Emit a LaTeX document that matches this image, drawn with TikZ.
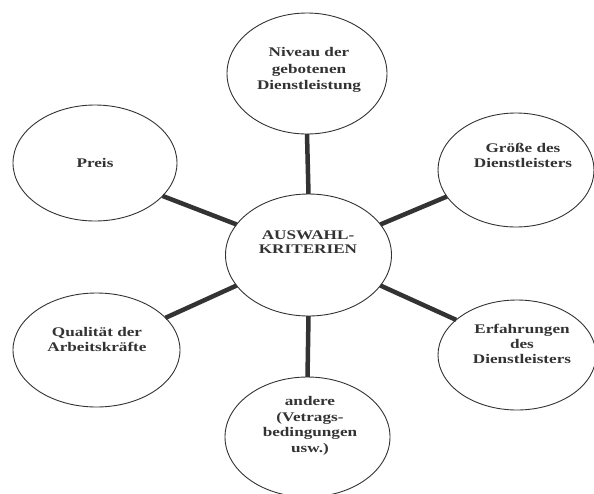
\documentclass[tikz,border=0pt]{standalone}
\usepackage{fontspec}
\setmainfont{Liberation Serif}[FakeStretch=1.3]
\usetikzlibrary{shapes.geometric}
\definecolor{ink}{HTML}{333333}
\begin{document}
\begin{tikzpicture}[x=1pt,y=-1pt,
  oval/.style={ellipse, draw=ink, line width=0.9pt, inner sep=0pt, outer sep=0pt},
  lbl/.style={font=\bfseries\fontsize{13.2}{15}\selectfont, text=ink, align=center, inner sep=0pt},
  link/.style={draw=ink, line width=4.5pt}]
\useasboundingbox[fill=white] (0,0) rectangle (594,493);
% ellipses
\node[oval, minimum width=160pt, minimum height=121pt] (top) at (307,73.5) {};
\node[oval, minimum width=166pt, minimum height=122pt] (ctr) at (308.5,255) {};
\node[oval, minimum width=164pt, minimum height=116pt] (preis) at (95,163) {};
\node[oval, minimum width=167pt, minimum height=114pt] (qual) at (96.5,350) {};
\node[oval, minimum width=156pt, minimum height=114pt] (groesse) at (516,170) {};
\node[oval, minimum width=158pt, minimum height=110pt] (erf) at (517,355) {};
\node[oval, minimum width=165pt, minimum height=120pt] (bot) at (307.5,437) {};
% labels
\node[lbl, font=\bfseries\fontsize{13.2}{16.5}\selectfont] (ttop) at (309,70) {Niveau der\\gebotenen\\Dienstleistung};
\node[lbl, font=\bfseries\fontsize{13.2}{14.5}\selectfont] (tctr) at (308,242) {AUSWAHL-\\KRITERIEN};
\node[lbl] (tpreis) at (95,163) {Preis};
\node[lbl] (tqual) at (97,339) {Qualität der\\Arbeitskräfte};
\node[lbl] (tgroesse) at (523,155.5) {Größe des\\Dienstleisters};
\node[lbl] (terf) at (522,344) {Erfahrungen\\des\\Dienstleisters};
\node[lbl, font=\bfseries\fontsize{13.2}{15.5}\selectfont] (tbot) at (310,426) {andere\\(Vetrags-\\bedingungen\\usw.)};
% connectors
\draw[link] (ctr.90) -- (top.270);
\draw[link] (ctr.270) -- (bot.90);
\draw[link] (ctr.157) -- (preis.334);
\draw[link] (ctr.23) -- (groesse.201.5);
\draw[link] (ctr.203) -- (qual.25.7);
\draw[link] (ctr.337) -- (erf.150.4);
\end{tikzpicture}
\end{document}
